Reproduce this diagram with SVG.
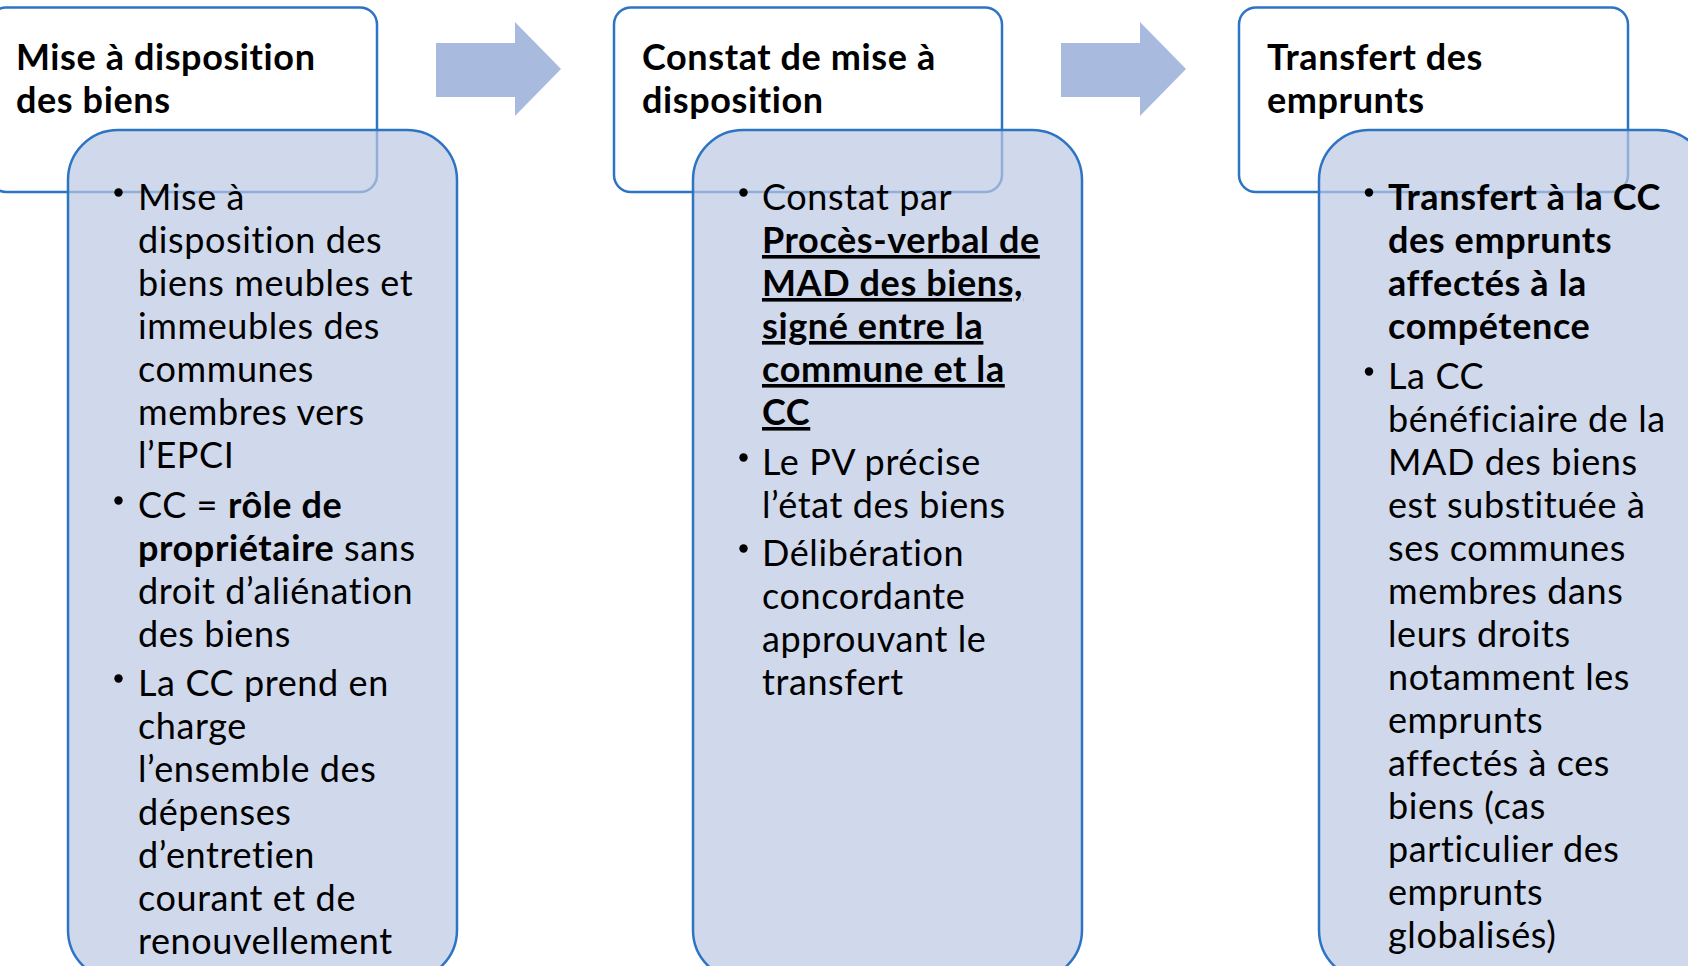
<svg xmlns="http://www.w3.org/2000/svg" width="1688" height="966" viewBox="0 0 1688 966">
<style>
.hdr{fill:#ffffff;stroke:#2e74c4;stroke-width:2.5}
.body{fill:#bcc7e2;fill-opacity:0.7;stroke:#2e74c4;stroke-width:2.5}
.arrow{fill:#a9badf}
.t{font-family:Lato,"Liberation Sans",sans-serif;font-size:36px;letter-spacing:0.6px;fill:#000}
.h{font-weight:bold}
.b{font-weight:bold}
.u{font-weight:bold;text-decoration:underline}
.dot{fill:#000}
</style>
<rect width="1688" height="966" fill="#ffffff"/>
<g id="connectors">
<polygon class="arrow" points="436,43 515,43 515,22 561,69 515,116 515,97 436,97"/>
<polygon class="arrow" points="1061,43 1140,43 1140,22 1186,69 1140,116 1140,97 1061,97"/>
</g>
<g id="node1">
<rect class="hdr" x="-11" y="7.5" width="388" height="184.5" rx="17"/>
<text class="t h" x="16" y="70">Mise à disposition</text>
<text class="t h" x="16" y="113">des biens</text>
<rect class="body" x="68" y="130" width="389" height="850" rx="50"/>
<g transform="translate(0,2)">
<circle class="dot" cx="118.5" cy="190.5" r="4.2"/>
<circle class="dot" cx="118.5" cy="498.5" r="4.2"/>
<circle class="dot" cx="118.5" cy="676.5" r="4.2"/>
<text class="t" x="138" y="208">Mise à</text>
<text class="t" x="138" y="251">disposition des</text>
<text class="t" x="138" y="294">biens meubles et</text>
<text class="t" x="138" y="337">immeubles des</text>
<text class="t" x="138" y="380">communes</text>
<text class="t" x="138" y="423">membres vers</text>
<text class="t" x="138" y="466">l’EPCI</text>
<text class="t" x="138" y="516">CC = <tspan class="b">rôle de</tspan></text>
<text class="t" x="138" y="559"><tspan class="b">propriétaire</tspan> sans</text>
<text class="t" x="138" y="602">droit d’aliénation</text>
<text class="t" x="138" y="645">des biens</text>
<text class="t" x="138" y="694">La CC prend en</text>
<text class="t" x="138" y="737">charge</text>
<text class="t" x="138" y="780">l’ensemble des</text>
<text class="t" x="138" y="823">dépenses</text>
<text class="t" x="138" y="866">d’entretien</text>
<text class="t" x="138" y="909">courant et de</text>
<text class="t" x="138" y="952">renouvellement</text>
</g>
</g>
<g id="node2">
<rect class="hdr" x="614" y="7.5" width="388" height="184.5" rx="17"/>
<text class="t h" x="642" y="70">Constat de mise à</text>
<text class="t h" x="642" y="113">disposition</text>
<rect class="body" x="693" y="130" width="389" height="850" rx="50"/>
<g transform="translate(0,2)">
<circle class="dot" cx="743.5" cy="190.5" r="4.2"/>
<circle class="dot" cx="743.5" cy="455.5" r="4.2"/>
<circle class="dot" cx="743.5" cy="546.5" r="4.2"/>
<text class="t" x="762" y="208">Constat par</text>
<text class="t" x="762" y="251"><tspan class="u">Procès-verbal de</tspan></text>
<text class="t" x="762" y="294"><tspan class="u">MAD des biens,</tspan></text>
<text class="t" x="762" y="337"><tspan class="u">signé entre la</tspan></text>
<text class="t" x="762" y="380"><tspan class="u">commune et la</tspan></text>
<text class="t" x="762" y="423"><tspan class="u">CC</tspan></text>
<text class="t" x="762" y="473">Le PV précise</text>
<text class="t" x="762" y="516">l’état des biens</text>
<text class="t" x="762" y="564">Délibération</text>
<text class="t" x="762" y="607">concordante</text>
<text class="t" x="762" y="650">approuvant le</text>
<text class="t" x="762" y="693">transfert</text>
</g>
</g>
<g id="node3">
<rect class="hdr" x="1239" y="7.5" width="389" height="184.5" rx="17"/>
<text class="t h" x="1267" y="70">Transfert des</text>
<text class="t h" x="1267" y="113">emprunts</text>
<rect class="body" x="1319" y="130" width="389" height="850" rx="50"/>
<g transform="translate(0,2)">
<circle class="dot" cx="1369" cy="190.5" r="4.2"/>
<circle class="dot" cx="1369" cy="369.5" r="4.2"/>
<text class="t b" x="1388" y="208">Transfert à la CC</text>
<text class="t b" x="1388" y="251">des emprunts</text>
<text class="t b" x="1388" y="294">affectés à la</text>
<text class="t b" x="1388" y="337">compétence</text>
<text class="t" x="1388" y="387">La CC</text>
<text class="t" x="1388" y="430">bénéficiaire de la</text>
<text class="t" x="1388" y="473">MAD des biens</text>
<text class="t" x="1388" y="516">est substituée à</text>
<text class="t" x="1388" y="559">ses communes</text>
<text class="t" x="1388" y="602">membres dans</text>
<text class="t" x="1388" y="645">leurs droits</text>
<text class="t" x="1388" y="688">notamment les</text>
<text class="t" x="1388" y="731">emprunts</text>
<text class="t" x="1388" y="774">affectés à ces</text>
<text class="t" x="1388" y="817">biens (cas</text>
<text class="t" x="1388" y="860">particulier des</text>
<text class="t" x="1388" y="903">emprunts</text>
<text class="t" x="1388" y="946">globalisés)</text>
</g>
</g>
</svg>
